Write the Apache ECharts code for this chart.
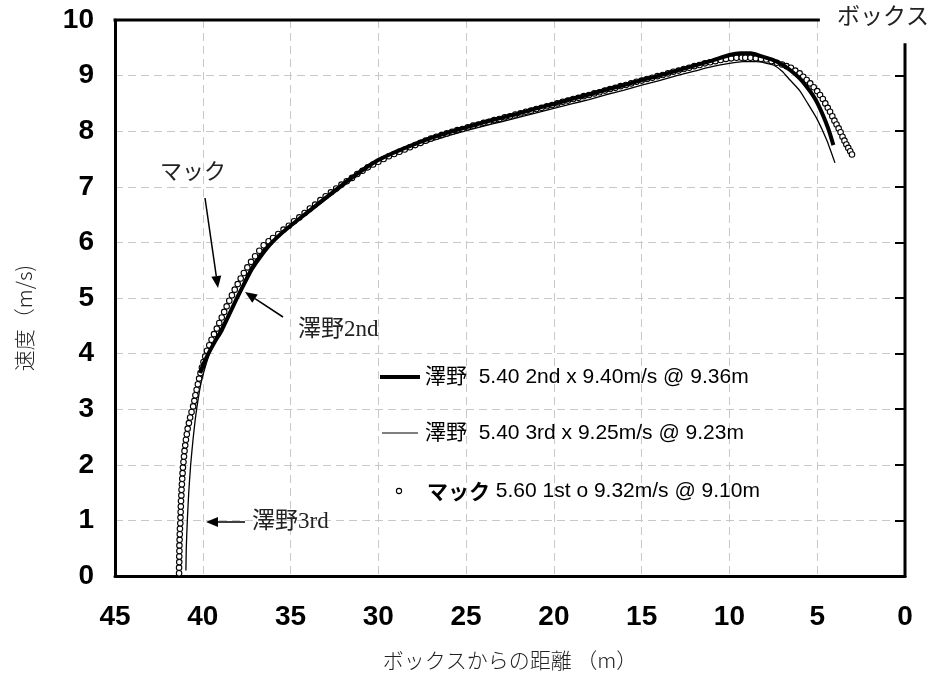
<!DOCTYPE html>
<html>
<head>
<meta charset="utf-8">
<script src="https://cdn.jsdelivr.net/npm/echarts@6/dist/echarts.min.js"></script>
<style>
  html, body { margin: 0; padding: 0; background: #fff; }
  #chart { width: 938px; height: 675px; }
</style>
</head>
<body>
<div id="chart"></div>
<script>
// Run-up speed profiles: distance from the box (m) vs. speed (m/s)

const legendLabels = [
  '5.40 2nd x 9.40m/s @ 9.36m',
  '5.40 3rd x 9.25m/s @ 9.23m',
  '5.60 1st o 9.32m/s @ 9.10m'
];
const athleteNames = ['澤野', '澤野', 'マック'];

// 澤野 2nd jump (thick line)
const sawano2nd = [
  [40.16, 3.65], [39.95, 3.82], [39.68, 4.00], [39.30, 4.22], [38.92, 4.42],
  [38.50, 4.70], [38.05, 5.00], [37.60, 5.28], [37.20, 5.52], [36.70, 5.75],
  [36.20, 5.95], [35.60, 6.14], [35.00, 6.30], [34.00, 6.55], [33.00, 6.80],
  [32.00, 7.05], [31.00, 7.28], [30.00, 7.48], [29.00, 7.63], [28.00, 7.76],
  [27.00, 7.88], [26.00, 7.98], [25.00, 8.07], [24.00, 8.16], [23.00, 8.24],
  [22.00, 8.32], [21.00, 8.41], [20.00, 8.49], [19.00, 8.58], [18.00, 8.66],
  [17.00, 8.75], [16.00, 8.83], [15.00, 8.92], [14.00, 9.00], [13.00, 9.09],
  [12.00, 9.18], [11.00, 9.27], [10.00, 9.37], [9.36, 9.40], [8.80, 9.40],
  [8.30, 9.36], [7.50, 9.28], [7.00, 9.20], [6.55, 9.10], [6.00, 8.95],
  [5.60, 8.80], [5.30, 8.67], [5.03, 8.53], [4.80, 8.38], [4.56, 8.20],
  [4.30, 7.98], [4.08, 7.75]
];

// 澤野 3rd jump (thin line)
const sawano3rd = [
  [40.96, 0.10], [40.94, 0.50], [40.88, 1.00], [40.80, 1.50], [40.69, 2.00],
  [40.54, 2.50], [40.35, 3.00], [40.08, 3.50], [39.62, 4.00], [39.30, 4.25],
  [38.90, 4.50], [38.40, 4.80], [38.00, 5.05], [37.50, 5.40], [37.00, 5.68],
  [36.50, 5.90], [36.00, 6.06], [35.00, 6.30], [34.00, 6.53], [33.00, 6.77],
  [32.00, 7.01], [31.00, 7.24], [30.00, 7.43], [29.00, 7.58], [28.00, 7.71],
  [27.00, 7.82], [26.00, 7.92], [25.00, 8.01], [24.00, 8.09], [23.00, 8.17],
  [22.00, 8.25], [21.00, 8.33], [20.00, 8.41], [19.00, 8.49], [18.00, 8.57],
  [17.00, 8.66], [16.00, 8.74], [15.00, 8.83], [14.00, 8.91], [13.00, 9.00],
  [12.00, 9.08], [11.00, 9.16], [10.00, 9.22], [9.23, 9.25], [8.45, 9.25],
  [8.00, 9.23], [7.50, 9.19], [7.00, 9.08], [6.55, 8.92], [6.00, 8.73],
  [5.60, 8.53], [5.03, 8.23], [4.46, 7.84], [3.99, 7.43]
];

// マック 1st jump (open circles)
const mack1st = [
  [41.35, 0.05], [41.35, 0.15], [41.34, 0.25], [41.34, 0.35], [41.33, 0.45],
  [41.33, 0.55], [41.32, 0.65], [41.31, 0.75], [41.30, 0.85], [41.28, 0.95],
  [41.27, 1.05], [41.26, 1.15], [41.25, 1.25], [41.24, 1.35], [41.22, 1.45],
  [41.21, 1.55], [41.19, 1.65], [41.17, 1.75], [41.15, 1.85], [41.13, 1.95],
  [41.10, 2.05], [41.07, 2.15], [41.04, 2.25], [41.00, 2.35], [40.96, 2.45],
  [40.91, 2.55], [40.86, 2.65], [40.79, 2.75], [40.72, 2.85], [40.64, 2.95],
  [40.55, 3.05], [40.48, 3.15], [40.42, 3.25], [40.35, 3.35], [40.28, 3.45],
  [40.21, 3.55], [40.13, 3.65], [40.05, 3.75], [39.96, 3.85], [39.86, 3.95],
  [39.76, 4.05], [39.63, 4.15], [39.50, 4.25], [39.36, 4.35], [39.20, 4.45],
  [39.06, 4.55], [38.92, 4.65], [38.78, 4.75], [38.64, 4.85], [38.49, 4.95],
  [38.34, 5.05], [38.18, 5.15], [38.01, 5.25], [37.84, 5.35], [37.66, 5.45],
  [37.46, 5.55], [37.25, 5.65], [37.02, 5.75], [36.78, 5.85], [36.53, 5.95],
  [36.25, 6.02], [36.00, 6.08], [35.70, 6.15], [35.40, 6.23], [35.10, 6.30],
  [34.80, 6.38], [34.50, 6.45], [34.20, 6.53], [33.90, 6.61], [33.60, 6.68],
  [33.30, 6.76], [33.00, 6.83], [32.70, 6.90], [32.40, 6.97], [32.10, 7.04],
  [31.80, 7.10], [31.50, 7.16], [31.20, 7.23], [30.90, 7.29], [30.60, 7.35],
  [30.30, 7.40], [30.00, 7.45], [29.70, 7.50], [29.40, 7.55], [29.10, 7.59],
  [28.80, 7.63], [28.50, 7.67], [28.20, 7.71], [27.90, 7.75], [27.60, 7.79],
  [27.30, 7.83], [27.00, 7.87], [26.70, 7.90], [26.40, 7.93], [26.10, 7.96],
  [25.80, 7.99], [25.50, 8.02], [25.20, 8.04], [24.90, 8.07], [24.60, 8.10],
  [24.30, 8.12], [24.00, 8.15], [23.70, 8.17], [23.40, 8.20], [23.10, 8.22],
  [22.80, 8.25], [22.50, 8.27], [22.20, 8.30], [21.90, 8.32], [21.60, 8.35],
  [21.30, 8.37], [21.00, 8.40], [20.70, 8.42], [20.40, 8.45], [20.10, 8.47],
  [19.80, 8.50], [19.50, 8.53], [19.20, 8.55], [18.90, 8.58], [18.60, 8.60],
  [18.30, 8.63], [18.00, 8.65], [17.70, 8.68], [17.40, 8.70], [17.10, 8.73],
  [16.80, 8.76], [16.50, 8.78], [16.20, 8.81], [15.90, 8.83], [15.60, 8.86],
  [15.30, 8.89], [15.00, 8.91], [14.70, 8.94], [14.40, 8.96], [14.10, 8.99],
  [13.80, 9.01], [13.50, 9.04], [13.20, 9.07], [12.90, 9.09], [12.60, 9.12],
  [12.30, 9.14], [12.00, 9.17], [11.70, 9.19], [11.40, 9.22], [11.10, 9.24],
  [10.80, 9.26], [10.50, 9.28], [10.20, 9.30], [9.90, 9.31], [9.60, 9.32],
  [9.30, 9.32], [9.10, 9.32], [8.80, 9.32], [8.50, 9.31], [8.20, 9.30],
  [7.90, 9.29], [7.60, 9.26], [7.30, 9.23], [7.00, 9.20], [6.75, 9.17],
  [6.50, 9.14], [6.25, 9.09], [6.00, 9.04], [5.80, 8.98], [5.60, 8.92],
  [5.40, 8.86], [5.20, 8.79], [5.00, 8.72], [4.84, 8.65], [4.68, 8.58],
  [4.54, 8.50], [4.40, 8.42], [4.27, 8.35], [4.14, 8.27], [4.02, 8.19],
  [3.90, 8.12], [3.78, 8.05], [3.67, 7.98], [3.56, 7.90], [3.45, 7.83],
  [3.34, 7.76], [3.23, 7.70], [3.12, 7.64], [3.02, 7.58]
];

// Frame pieces, in data units: top border stops short of the box label,
// and the box line at 0 m rises to just under the top.
const topBorderEnd = 4.85;
const boxLineTop = 9.58;
const boxTickValues = [1, 2, 3, 4, 5, 6, 7, 8, 9];

const SANS = "'Liberation Sans', 'Noto Sans CJK JP', sans-serif";
const SERIF = "'Liberation Serif', 'Noto Sans CJK JP', serif";
const GRID_COLOR = '#c8c8c8';

const chart = echarts.init(document.getElementById('chart'), null, { renderer: 'canvas' });

chart.setOption({
  animation: false,
  backgroundColor: '#fff',
  grid: { left: 115, right: 33, top: 20, bottom: 99 },
  xAxis: {
    type: 'value', min: 0, max: 45, interval: 5, inverse: true,
    axisLine: { show: true, onZero: false, lineStyle: { color: '#000', width: 3 } },
    axisTick: { show: false },
    axisLabel: { color: '#000', fontFamily: SANS, fontWeight: 'bold', fontSize: 28, margin: 27 },
    splitLine: { show: true, showMinLine: false, showMaxLine: false,
      lineStyle: { color: GRID_COLOR, width: 1, type: [8, 5] } }
  },
  yAxis: [{
    type: 'value', min: 0, max: 10, interval: 1,
    axisLine: { show: true, onZero: false, lineStyle: { color: '#000', width: 3 } },
    axisTick: { show: false },
    axisLabel: { color: '#000', fontFamily: SANS, fontWeight: 'bold', fontSize: 28, margin: 21 },
    splitLine: { show: true, showMinLine: false, showMaxLine: false,
      lineStyle: { color: GRID_COLOR, width: 1, type: [8, 5] } }
  }, {
    type: 'value', min: 0, max: 10, interval: 1, position: 'right',
    axisLine: { show: false },
    axisTick: { show: true, inside: true, length: 10, customValues: boxTickValues,
      lineStyle: { color: '#000', width: 2 } },
    axisLabel: { show: false },
    splitLine: { show: false }
  }],
  series: [{
    name: '澤野 3rd', type: 'line', data: sawano3rd, symbol: 'none', smooth: 0.2,
    lineStyle: { color: '#000', width: 1.3 }, z: 2
  }, {
    name: 'マック 1st', type: 'scatter', data: mack1st, symbol: 'circle', symbolSize: 5.5,
    itemStyle: { color: '#fff', borderColor: '#000', borderWidth: 1.1, opacity: 1 }, z: 3
  }, {
    name: '澤野 2nd', type: 'line', data: sawano2nd, symbol: 'none', smooth: 0.2,
    lineStyle: { color: '#000', width: 4 }, z: 4
  }]
});

// Arrow from (x1, y1) with a filled head at (x2, y2)
function arrow(x1, y1, x2, y2) {
  const ang = Math.atan2(y2 - y1, x2 - x1);
  const L = 12, W = 5;
  const bx = x2 - L * Math.cos(ang), by = y2 - L * Math.sin(ang);
  const px = -Math.sin(ang) * W, py = Math.cos(ang) * W;
  return [
    { type: 'line', shape: { x1: x1, y1: y1, x2: bx, y2: by }, style: { stroke: '#000', lineWidth: 1.5 }, z: 10 },
    { type: 'polygon', shape: { points: [[x2, y2], [bx + px, by + py], [bx - px, by - py]] }, style: { fill: '#000' }, z: 10 }
  ];
}

function label(text, x, y, size, family, extra) {
  return {
    type: 'text', x: x, y: y, z: 10,
    style: Object.assign({
      text: text, fill: '#000', fontSize: size, fontFamily: family,
      align: 'left', verticalAlign: 'middle', textAlign: 'left', textVerticalAlign: 'middle'
    }, extra || {})
  };
}

const toPx = (pt) => chart.convertToPixel({ xAxisIndex: 0, yAxisIndex: 0 }, pt);
const tl = toPx([45, 10]);
const tr = toPx([topBorderEnd, 10]);
const bb = toPx([0, 0]);
const bt = toPx([0, boxLineTop]);

const g = [];
// frame: top border and the box line
g.push({ type: 'line', shape: { x1: tl[0] - 1.5, y1: tl[1], x2: tr[0], y2: tr[1] }, style: { stroke: '#000', lineWidth: 3 }, z: 9 });
g.push({ type: 'line', shape: { x1: bb[0], y1: bb[1] + 1.5, x2: bt[0], y2: bt[1] }, style: { stroke: '#000', lineWidth: 3 }, z: 9 });
g.push(label('ボックス', 837, 18, 23, SERIF, { fill: '#222' }));

// axis titles
g.push(label('ボックスからの距離 （m）', 510, 660, 21, "'Noto Sans CJK JP', 'Liberation Sans', sans-serif",
  { align: 'center', textAlign: 'center', fill: '#222', fontWeight: 300 }));
g.push({
  type: 'text', x: 24, y: 318, rotation: Math.PI / 2, z: 10,
  style: { text: '速度（m/s)', fill: '#222', fontSize: 21, fontFamily: "'Noto Sans CJK JP', 'Liberation Sans', sans-serif",
    fontWeight: 300, align: 'center', verticalAlign: 'middle', textAlign: 'center', textVerticalAlign: 'middle' }
});

// legend
g.push({ type: 'line', shape: { x1: 380, y1: 377, x2: 420, y2: 377 }, style: { stroke: '#000', lineWidth: 4 }, z: 10 });
g.push({
  type: 'text', x: 425, y: 377, z: 10,
  style: { text: athleteNames[0] + '  ' + legendLabels[0], fill: '#000', fontSize: 21, fontFamily: SANS,
    align: 'left', verticalAlign: 'middle', textAlign: 'left', textVerticalAlign: 'middle' }
});
g.push({ type: 'line', shape: { x1: 382, y1: 433, x2: 418, y2: 433 }, style: { stroke: '#000', lineWidth: 1.2 }, z: 10 });
g.push({
  type: 'text', x: 425, y: 433, z: 10,
  style: { text: athleteNames[1] + '  ' + legendLabels[1], fill: '#000', fontSize: 21, fontFamily: SANS,
    align: 'left', verticalAlign: 'middle', textAlign: 'left', textVerticalAlign: 'middle' }
});
g.push({ type: 'circle', shape: { cx: 399, cy: 491, r: 2.6 }, style: { fill: '#fff', stroke: '#000', lineWidth: 1.1 }, z: 10 });
g.push({
  type: 'text', x: 427, y: 491, z: 10,
  style: { text: '{b|' + athleteNames[2] + '} ' + legendLabels[2], fill: '#000', fontSize: 21, fontFamily: SANS,
    rich: { b: { fontWeight: 'bold', fontSize: 21, fontFamily: "'Noto Sans CJK JP', sans-serif", fill: '#000' } },
    align: 'left', verticalAlign: 'middle', textAlign: 'left', textVerticalAlign: 'middle' }
});

// annotations
g.push(label('マック', 160, 173, 22, SERIF, { fill: '#222' }));
g.push(...arrow(205, 198, 218, 288));
g.push(label('澤野2nd', 298, 330, 23, SERIF, { fill: '#222' }));
g.push(...arrow(283, 317, 245, 292));
g.push(label('澤野3rd', 252, 522, 23, SERIF, { fill: '#222' }));
g.push(...arrow(245, 522, 206, 522));

chart.setOption({ graphic: { elements: g } });
</script>
</body>
</html>
